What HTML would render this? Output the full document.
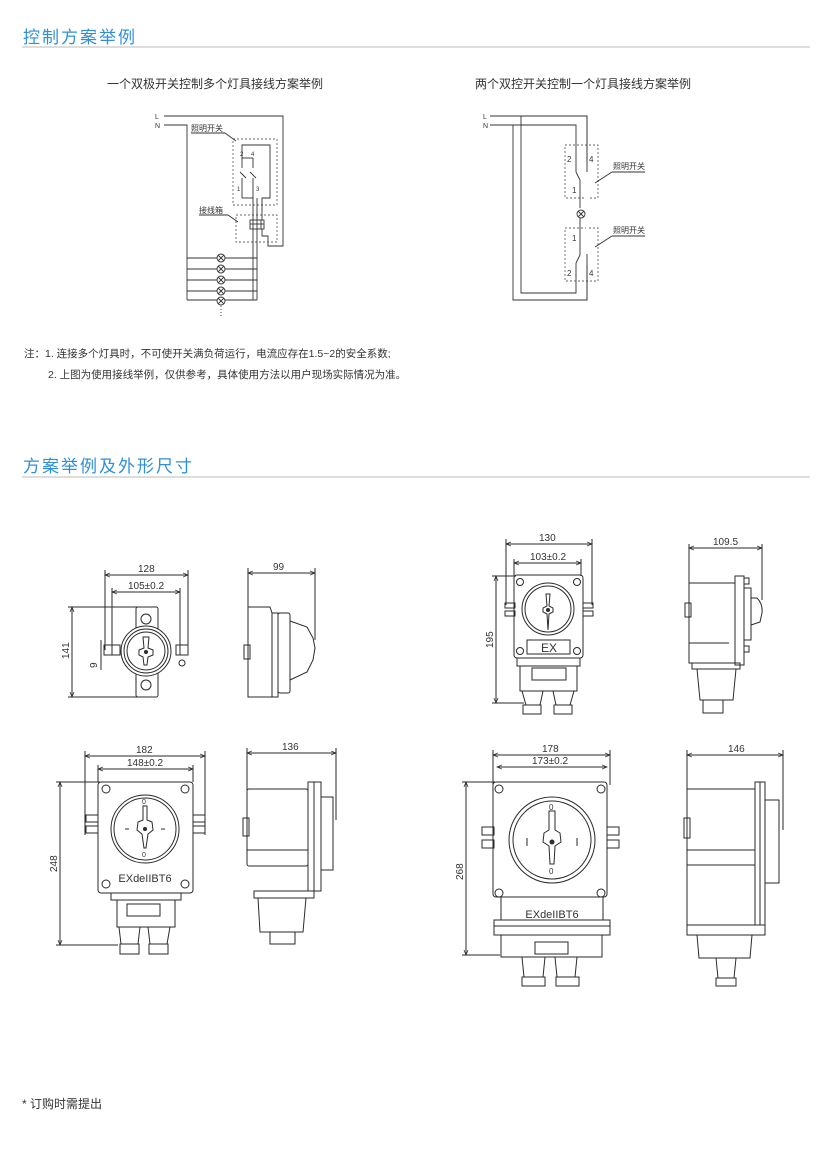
<!DOCTYPE html>
<html><head><meta charset="utf-8"><style>
html,body{margin:0;padding:0;background:#fff;}
svg{display:block;font-family:"Liberation Sans","Noto Sans CJK SC",sans-serif;}
</style></head><body>
<svg width="828" height="1150" viewBox="0 0 828 1150" xmlns="http://www.w3.org/2000/svg">
<defs>
<marker id="a" markerWidth="6" markerHeight="6" refX="5" refY="3" orient="auto"><path d="M0,1 L5,3 L0,5" fill="none" stroke="#333" stroke-width="0.8"/></marker>
<marker id="b" markerWidth="6" markerHeight="6" refX="1" refY="3" orient="auto"><path d="M6,1 L1,3 L6,5" fill="none" stroke="#333" stroke-width="0.8"/></marker>
</defs>
<text x="23" y="43" font-size="17" fill="#2f8fd8" letter-spacing="2">控制方案举例</text>
<line x1="22" y1="47" x2="810" y2="47" stroke="#bbb" stroke-width="1"/>
<text x="23" y="472" font-size="17" fill="#2f8fd8" letter-spacing="2">方案举例及外形尺寸</text>
<line x1="22" y1="477" x2="810" y2="477" stroke="#bbb" stroke-width="1"/>

<text x="107" y="88" font-size="12" fill="#333">一个双极开关控制多个灯具接线方案举例</text>
<text x="475" y="88" font-size="12" fill="#333">两个双控开关控制一个灯具接线方案举例</text>

<g fill="none" stroke="#333" stroke-width="0.9" font-size="7">
<text x="155" y="119" fill="#333" stroke="none">L</text>
<text x="155" y="128" fill="#333" stroke="none">N</text>
<polyline points="164,116 283,116 283,246 268,246 268,236 262,236 262,223 260,223"/>
<polyline points="164,125 187,125 187,300"/>
<rect x="233" y="139" width="44" height="66" stroke-dasharray="2,2" stroke="#666"/>
<rect x="236" y="215" width="41" height="27" stroke-dasharray="2,2" stroke="#666"/>
<polyline points="242,158 242,145 270,145 270,198 262,198 262,220"/>
<line x1="242" y1="158" x2="253" y2="158"/>
<line x1="253" y1="158" x2="253" y2="168"/><line x1="242" y1="158" x2="242" y2="168"/>
<line x1="240" y1="172" x2="246" y2="178"/><line x1="250" y1="172" x2="256" y2="178"/>
<line x1="242" y1="178" x2="242" y2="198"/><line x1="253" y1="178" x2="253" y2="198"/>
<polyline points="242,198 253,198"/>
<line x1="253" y1="198" x2="253" y2="300"/><line x1="257" y1="198" x2="257" y2="300"/>
<rect x="250" y="220" width="14" height="9" fill="#fff"/>
<line x1="253" y1="220" x2="253" y2="229"/><line x1="257" y1="220" x2="257" y2="229"/><line x1="261" y1="220" x2="261" y2="229"/><line x1="250" y1="224" x2="264" y2="224"/>
<text x="240" y="156" fill="#333" stroke="none" font-size="6">2</text><text x="251" y="156" fill="#333" stroke="none" font-size="6">4</text>
<text x="237" y="191" fill="#333" stroke="none" font-size="6">1</text><text x="256" y="191" fill="#333" stroke="none" font-size="6">3</text>
<text x="191" y="131" fill="#333" stroke="none" font-size="8">照明开关</text>
<line x1="191" y1="133" x2="225" y2="133"/><line x1="225" y1="133" x2="236" y2="141"/>
<text x="199" y="213" fill="#333" stroke="none" font-size="8">接线箱</text>
<line x1="199" y1="215" x2="228" y2="215"/><line x1="228" y1="215" x2="238" y2="222"/>
<g>
<line x1="187" y1="258" x2="257" y2="258"/><line x1="187" y1="269" x2="257" y2="269"/><line x1="187" y1="280" x2="257" y2="280"/><line x1="187" y1="291" x2="257" y2="291"/><line x1="187" y1="300" x2="257" y2="300"/>
<g fill="#fff">
<circle cx="221" cy="258" r="4"/><circle cx="221" cy="269" r="4"/><circle cx="221" cy="280" r="4"/><circle cx="221" cy="291" r="4"/><circle cx="221" cy="301" r="4"/>
</g>
<path d="M218,255l6,6m0-6l-6,6 M218,266l6,6m0-6l-6,6 M218,277l6,6m0-6l-6,6 M218,288l6,6m0-6l-6,6 M218,298l6,6m0-6l-6,6"/>
<line x1="221" y1="306" x2="221" y2="316" stroke-dasharray="1,2"/>
</g>
</g>

<g fill="none" stroke="#333" stroke-width="0.9" font-size="7">
<text x="483" y="119" fill="#333" stroke="none">L</text>
<text x="483" y="128" fill="#333" stroke="none">N</text>
<polyline points="490,116 587,116 587,300 513,300 513,125"/>
<polyline points="490,125 576,125 576,160"/>
<polyline points="521,116 521,293 576,293 576,274"/>
<rect x="565" y="145" width="33" height="53" stroke-dasharray="2,2" stroke="#666"/>
<rect x="565" y="228" width="33" height="53" stroke-dasharray="2,2" stroke="#666"/>
<line x1="576" y1="160" x2="576" y2="172"/><line x1="576" y1="172" x2="580" y2="180"/><line x1="580" y1="180" x2="580" y2="208"/>
<line x1="587" y1="172" x2="587" y2="254" stroke="#fff" stroke-width="2"/>
<line x1="587" y1="116" x2="587" y2="161"/>
<line x1="587" y1="265" x2="587" y2="300"/>
<circle cx="581" cy="214" r="4" fill="#fff"/><path d="M578,211l6,6m0-6l-6,6"/>
<line x1="580" y1="218" x2="580" y2="255"/><line x1="580" y1="255" x2="576" y2="263"/><line x1="576" y1="263" x2="576" y2="276"/>
<text x="567" y="162" fill="#333" stroke="none" font-size="8">2</text><text x="589" y="162" fill="#333" stroke="none" font-size="8">4</text>
<text x="572" y="193" fill="#333" stroke="none" font-size="8">1</text>
<text x="572" y="241" fill="#333" stroke="none" font-size="8">1</text>
<text x="567" y="276" fill="#333" stroke="none" font-size="8">2</text><text x="589" y="276" fill="#333" stroke="none" font-size="8">4</text>
<text x="613" y="169" fill="#333" stroke="none" font-size="8">照明开关</text>
<line x1="612" y1="172" x2="645" y2="172"/><line x1="612" y1="172" x2="595" y2="183"/>
<text x="613" y="233" fill="#333" stroke="none" font-size="8">照明开关</text>
<line x1="612" y1="236" x2="645" y2="236"/><line x1="612" y1="236" x2="595" y2="247"/>
</g>

<text x="24" y="357" font-size="10.5" fill="#333">注：1. 连接多个灯具时，不可使开关满负荷运行，电流应存在1.5~2的安全系数;</text>
<text x="48" y="378" font-size="10.5" fill="#333">2. 上图为使用接线举例，仅供参考，具体使用方法以用户现场实际情况为准。</text>

<g fill="none" stroke="#2a2a2a" stroke-width="1" font-size="10">
<line x1="105" y1="575" x2="188" y2="575" marker-start="url(#b)" marker-end="url(#a)"/>
<text x="138" y="572" fill="#333" stroke="none">128</text>
<line x1="105" y1="570" x2="105" y2="650"/><line x1="188" y1="570" x2="188" y2="650"/>
<line x1="112" y1="592" x2="180" y2="592" marker-start="url(#b)" marker-end="url(#a)"/>
<text x="128" y="589" fill="#333" stroke="none">105±0.2</text>
<line x1="112" y1="588" x2="112" y2="655"/><line x1="180" y1="588" x2="180" y2="655"/>
<line x1="72" y1="607" x2="72" y2="697" marker-start="url(#b)" marker-end="url(#a)"/>
<line x1="68" y1="607" x2="138" y2="607"/><line x1="68" y1="697" x2="138" y2="697"/>
<text x="0" y="0" transform="translate(69,659) rotate(-90)" fill="#333" stroke="none">141</text>
<text x="0" y="0" transform="translate(97,668) rotate(-90)" fill="#333" stroke="none">9</text>
<line x1="101" y1="640" x2="101" y2="670"/>
<rect x="136" y="607" width="22" height="90" rx="2"/>
<circle cx="146" cy="619" r="5"/><circle cx="146" cy="685" r="5"/>
<rect x="104" y="645" width="16" height="10"/><rect x="176" y="645" width="12" height="10"/>
<circle cx="182" cy="663" r="3"/>
<circle cx="146" cy="651" r="25" fill="#fff"/><circle cx="146" cy="651" r="22"/><circle cx="146" cy="651" r="19"/>
<path d="M143,637 L149,637 L148,648 L153,650 L153,655 L148,657 L147,665 L144,665 L143,657 L139,655 L139,650 L144,648Z" fill="#fff"/>
<circle cx="146" cy="652" r="1.5" fill="#333"/>
<line x1="248" y1="573" x2="315" y2="573" marker-start="url(#b)" marker-end="url(#a)"/>
<text x="273" y="570" fill="#333" stroke="none">99</text>
<line x1="248" y1="568" x2="248" y2="607"/><line x1="315" y1="568" x2="315" y2="640"/>
<path d="M248,607 L270,607 L272,613 L278,613 L278,697 L248,697Z"/>
<rect x="272" y="613" width="6" height="84"/>
<rect x="278" y="613" width="12" height="80" rx="2"/>
<path d="M290,621 L307,627 L313,638 L315,648 L313,660 L307,672 L290,680"/>
<rect x="244" y="645" width="6" height="14"/>

<line x1="506" y1="544" x2="592" y2="544" marker-start="url(#b)" marker-end="url(#a)"/>
<text x="539" y="541" fill="#333" stroke="none">130</text>
<line x1="506" y1="539" x2="506" y2="605"/><line x1="592" y1="539" x2="592" y2="605"/>
<line x1="514" y1="563" x2="581" y2="563" marker-start="url(#b)" marker-end="url(#a)"/>
<text x="530" y="560" fill="#333" stroke="none">103±0.2</text>
<line x1="514" y1="559" x2="514" y2="576"/><line x1="581" y1="559" x2="581" y2="576"/>
<line x1="496" y1="576" x2="496" y2="703" marker-start="url(#b)" marker-end="url(#a)"/>
<line x1="492" y1="576" x2="516" y2="576"/><line x1="492" y1="703" x2="524" y2="703"/>
<text x="0" y="0" transform="translate(493,648) rotate(-90)" fill="#333" stroke="none">195</text>
<rect x="505" y="603" width="10" height="5"/><rect x="505" y="611" width="10" height="5"/>
<rect x="583" y="603" width="10" height="5"/><rect x="583" y="611" width="10" height="5"/>
<rect x="514" y="575" width="69" height="83" rx="3"/>
<circle cx="520" cy="582" r="3.5"/><circle cx="577" cy="582" r="3.5"/><circle cx="520" cy="651" r="3.5"/><circle cx="577" cy="651" r="3.5"/>
<circle cx="548" cy="609" r="26"/><circle cx="548" cy="609" r="23"/>
<path d="M546,594 L550,594 L549,606 L553,608 L553,612 L549,614 L548,630 L548,630 L547,614 L543,612 L543,608 L547,606Z"/>
<circle cx="548" cy="610" r="1.5" fill="#333"/>
<rect x="527" y="640" width="43" height="14"/>
<text x="541" y="652" fill="#333" stroke="none" font-size="12">EX</text>
<rect x="517" y="658" width="63" height="8"/>
<rect x="520" y="666" width="57" height="25"/>
<rect x="532" y="668" width="34" height="12"/>
<path d="M522,691 L526,705 L540,705 L543,691 M553,691 L556,705 L570,705 L574,691"/>
<rect x="523" y="705" width="18" height="9"/><rect x="554" y="705" width="18" height="9"/>
<line x1="689" y1="548" x2="762" y2="548" marker-start="url(#b)" marker-end="url(#a)"/>
<text x="713" y="545" fill="#333" stroke="none">109.5</text>
<line x1="689" y1="544" x2="689" y2="590"/><line x1="762" y1="544" x2="762" y2="600"/>
<path d="M689,583 L735,583 L735,663 L689,663Z"/>
<line x1="689" y1="643" x2="729" y2="643"/>
<rect x="735" y="576" width="9" height="89"/>
<rect x="744" y="588" width="7" height="52"/>
<path d="M751,598 L757,598 Q763,604 762,613 L760,622 L751,625"/>
<rect x="744" y="578" width="5" height="6"/><rect x="744" y="646" width="5" height="6"/>
<rect x="685" y="603" width="6" height="14"/>
<rect x="692" y="663" width="48" height="6"/>
<path d="M697,669 L700,700 L733,700 L736,669"/>
<rect x="703" y="700" width="20" height="13"/>

<line x1="85" y1="756" x2="205" y2="756" marker-start="url(#b)" marker-end="url(#a)"/>
<text x="136" y="753" fill="#333" stroke="none">182</text>
<line x1="85" y1="751" x2="85" y2="835"/><line x1="205" y1="751" x2="205" y2="835"/>
<line x1="98" y1="769" x2="193" y2="769" marker-start="url(#b)" marker-end="url(#a)"/>
<text x="127" y="766" fill="#333" stroke="none">148±0.2</text>
<line x1="98" y1="765" x2="98" y2="782"/><line x1="193" y1="765" x2="193" y2="782"/>
<line x1="60" y1="782" x2="60" y2="945" marker-start="url(#b)" marker-end="url(#a)"/>
<line x1="56" y1="782" x2="100" y2="782"/><line x1="56" y1="945" x2="118" y2="945"/>
<text x="0" y="0" transform="translate(57,872) rotate(-90)" fill="#333" stroke="none">248</text>
<rect x="86" y="815" width="12" height="7"/><rect x="86" y="826" width="12" height="7"/>
<rect x="193" y="815" width="12" height="7"/><rect x="193" y="826" width="12" height="7"/>
<rect x="98" y="782" width="95" height="111" rx="3"/>
<circle cx="106" cy="789" r="4"/><circle cx="185" cy="789" r="4"/><circle cx="106" cy="884" r="4"/><circle cx="185" cy="884" r="4"/>
<circle cx="145" cy="829" r="34"/><circle cx="145" cy="829" r="31"/>
<path d="M143,806 L147,806 L147,820 L152,822 L153,830 L148,834 L146,848 L144,848 L142,834 L137,830 L138,822 L143,820Z" fill="#fff"/>
<circle cx="145" cy="829" r="1.5" fill="#333"/>
<text x="142" y="804" fill="#333" stroke="none" font-size="7">0</text><text x="142" y="857" fill="#333" stroke="none" font-size="7">0</text>
<line x1="125" y1="829" x2="129" y2="829"/><line x1="161" y1="829" x2="165" y2="829"/>
<text x="145" y="882" fill="#333" stroke="none" font-size="11" text-anchor="middle">EXdeIIBT6</text>
<rect x="111" y="893" width="70" height="7"/>
<rect x="117" y="900" width="58" height="27"/>
<rect x="127" y="904" width="33" height="12"/>
<path d="M119,927 L121,944 L138,944 L140,927 M148,927 L150,944 L167,944 L170,927"/>
<rect x="120" y="944" width="19" height="10"/><rect x="149" y="944" width="19" height="10"/>
<line x1="247" y1="753" x2="336" y2="753" marker-start="url(#b)" marker-end="url(#a)"/>
<text x="282" y="750" fill="#333" stroke="none">136</text>
<line x1="247" y1="748" x2="247" y2="790"/><line x1="336" y1="748" x2="336" y2="820"/>
<rect x="247" y="789" width="61" height="77" rx="2"/>
<line x1="247" y1="850" x2="308" y2="850"/>
<rect x="308" y="782" width="13" height="109"/><line x1="314" y1="782" x2="314" y2="891"/>
<path d="M321,797 L333,797 L333,870 L321,870"/>
<rect x="243" y="818" width="6" height="18"/>
<rect x="254" y="891" width="60" height="7"/>
<path d="M258,898 L260,932 L303,932 L306,898"/>
<rect x="270" y="932" width="25" height="12"/>

<line x1="493" y1="755" x2="610" y2="755" marker-start="url(#b)" marker-end="url(#a)"/>
<text x="542" y="752" fill="#333" stroke="none">178</text>
<line x1="493" y1="750" x2="493" y2="785"/><line x1="610" y1="750" x2="610" y2="785"/>
<line x1="497" y1="767" x2="607" y2="767" marker-start="url(#b)" marker-end="url(#a)"/>
<text x="532" y="764" fill="#333" stroke="none">173±0.2</text>
<line x1="466" y1="782" x2="466" y2="955" marker-start="url(#b)" marker-end="url(#a)"/>
<line x1="462" y1="782" x2="495" y2="782"/><line x1="462" y1="955" x2="500" y2="955"/>
<text x="0" y="0" transform="translate(463,880) rotate(-90)" fill="#333" stroke="none">268</text>
<rect x="482" y="827" width="12" height="8"/><rect x="482" y="840" width="12" height="8"/>
<rect x="607" y="827" width="12" height="8"/><rect x="607" y="840" width="12" height="8"/>
<rect x="493" y="782" width="114" height="115" rx="3"/>
<circle cx="499" cy="789" r="4"/><circle cx="601" cy="789" r="4"/><circle cx="499" cy="893" r="4"/><circle cx="601" cy="893" r="4"/>
<circle cx="552" cy="840" r="43"/><circle cx="552" cy="840" r="39"/>
<path d="M549,811 L555,811 L555,830 L560,833 L561,842 L555,846 L554,864 L550,864 L549,846 L543,842 L544,833 L549,830Z" fill="#fff"/>
<circle cx="552" cy="842" r="2" fill="#333"/>
<text x="549" y="810" fill="#333" stroke="none" font-size="8">0</text><text x="549" y="874" fill="#333" stroke="none" font-size="8">0</text>
<line x1="527" y1="838" x2="527" y2="846"/><line x1="577" y1="838" x2="577" y2="846"/>
<path d="M501,897 L501,920 M603,897 L603,920"/>
<text x="552" y="918" fill="#333" stroke="none" font-size="11" text-anchor="middle">EXdeIIBT6</text>
<rect x="494" y="920" width="116" height="15"/><line x1="494" y1="926" x2="610" y2="926"/>
<rect x="501" y="935" width="101" height="22"/>
<rect x="535" y="942" width="33" height="12"/>
<path d="M522,957 L524,977 L543,977 L545,957 M555,957 L557,977 L575,977 L577,957"/>
<rect x="522" y="977" width="23" height="9"/><rect x="556" y="977" width="23" height="9"/>
<line x1="687" y1="755" x2="783" y2="755" marker-start="url(#b)" marker-end="url(#a)"/>
<text x="728" y="752" fill="#333" stroke="none">146</text>
<line x1="687" y1="750" x2="687" y2="795"/><line x1="783" y1="750" x2="783" y2="830"/>
<path d="M687,789 L755,789 L755,925 L687,925Z"/>
<line x1="687" y1="850" x2="755" y2="850"/><line x1="687" y1="865" x2="755" y2="865"/>
<rect x="755" y="782" width="10" height="143"/><line x1="760" y1="782" x2="760" y2="925"/>
<path d="M765,800 L779,800 L779,883 L765,883"/>
<rect x="684" y="818" width="6" height="20"/>
<rect x="687" y="925" width="78" height="10"/>
<path d="M697,935 L699,958 L750,958 L752,935"/>
<path d="M716,958 L718,978 L734,978 L736,958"/>
<rect x="716" y="978" width="20" height="8"/>
</g>

<text x="22" y="1108" font-size="12" fill="#333">* 订购时需提出</text>
</svg>
</body></html>
